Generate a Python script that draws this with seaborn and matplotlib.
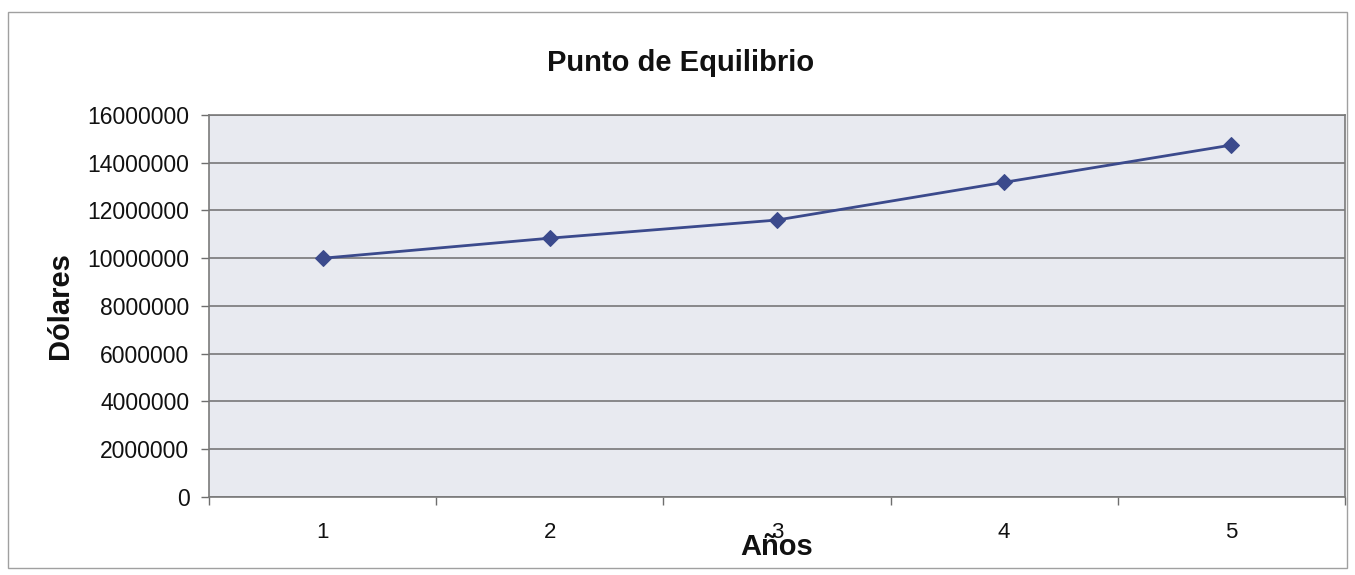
import matplotlib
matplotlib.use("Agg")
import matplotlib.pyplot as plt
from matplotlib.patches import Rectangle
from matplotlib.ticker import FixedLocator, NullFormatter
import seaborn as sns
import pandas as pd

# Break-even point per year
years = [1, 2, 3, 4, 5]
dolares = [10000000, 10840000, 11600000, 13180000, 14740000]
y_ticks = [0, 2000000, 4000000, 6000000, 8000000, 10000000, 12000000, 14000000, 16000000]

title = "Punto de Equilibrio"
x_label = "Años"
y_label = "Dólares"

sns.set_style("white")
plt.rcParams["font.family"] = ["Liberation Sans", "DejaVu Sans"]
plt.rcParams["text.color"] = "#111111"
plt.rcParams["axes.labelcolor"] = "#111111"
plt.rcParams["xtick.color"] = "#111111"
plt.rcParams["ytick.color"] = "#111111"

df = pd.DataFrame({"Años": years, "Dólares": dolares})

fig = plt.figure(figsize=(13.55, 5.75), dpi=100)
ax = fig.add_axes([0.1542, 0.1357, 0.9926 - 0.1542, 0.8 - 0.1357])
ax.set_facecolor("#E8EAF0")

# outer chart frame
fig.patches.append(Rectangle((0.006, 0.012), 0.988, 0.967, transform=fig.transFigure,
                             fill=False, edgecolor="#A0A0A0", linewidth=1.0))

sns.lineplot(data=df, x="Años", y="Dólares", ax=ax, color="#3B4A8C",
             linewidth=2.0, marker="D", markersize=8, markeredgecolor="#3B4A8C",
             zorder=3)

ax.set_xlim(0.5, 5.5)
ax.set_ylim(0, 16000000)
ax.set_yticks(y_ticks)
ax.set_yticklabels([str(v) for v in y_ticks])
ax.set_xticks(years)
ax.set_xticklabels([str(v) for v in years])
ax.xaxis.set_minor_locator(FixedLocator([0.5, 1.5, 2.5, 3.5, 4.5, 5.5]))
ax.xaxis.set_minor_formatter(NullFormatter())

ax.yaxis.grid(True, color="#6E6E6E", linewidth=1.1)
ax.xaxis.grid(False)
ax.set_axisbelow(True)

for side in ["left", "bottom", "right", "top"]:
    ax.spines[side].set_visible(True)
    ax.spines[side].set_color("#7A7A7A")
    ax.spines[side].set_linewidth(1.2)

ax.tick_params(axis="y", which="major", direction="out", length=6, width=1,
               color="#6E6E6E", labelsize=16.5, pad=8, left=True)
ax.tick_params(axis="x", which="major", length=0, labelsize=16, pad=18)
ax.tick_params(axis="x", which="minor", direction="out", length=6, width=1,
               color="#6E6E6E", bottom=True)

fig.text(0.502, 0.89, title, fontsize=21, fontweight="bold", ha="center", va="center")
ax.set_xlabel(x_label, fontsize=21, fontweight="bold", labelpad=-7)
ax.set_ylabel(y_label, fontsize=21, fontweight="bold", labelpad=10)

fig.savefig("out.png", dpi=100, facecolor="white")
